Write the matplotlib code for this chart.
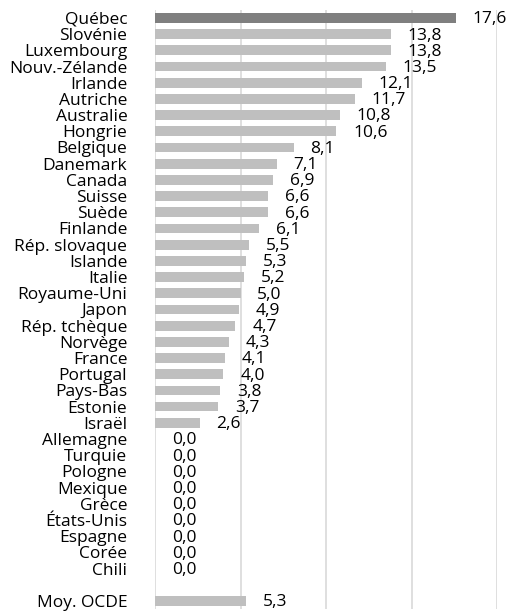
import numpy as np
import matplotlib
matplotlib.use("Agg")
import matplotlib.pyplot as plt

""" DATA """
countries = ["Québec", "Slovénie", "Luxembourg", "Nouv.-Zélande", "Irlande",
             "Autriche", "Australie", "Hongrie", "Belgique", "Danemark",
             "Canada", "Suisse", "Suède", "Finlande", "Rép. slovaque",
             "Islande", "Italie", "Royaume-Uni", "Japon", "Rép. tchèque",
             "Norvège", "France", "Portugal", "Pays-Bas", "Estonie", "Israël",
             "Allemagne", "Turquie", "Pologne", "Mexique", "Grèce",
             "États-Unis", "Espagne", "Corée", "Chili", "", "Moy. OCDE"]
values = [17.6, 13.8, 13.8, 13.5, 12.1, 11.7, 10.8, 10.6, 8.1, 7.1,
          6.9, 6.6, 6.6, 6.1, 5.5, 5.3, 5.2, 5.0, 4.9, 4.7,
          4.3, 4.1, 4.0, 3.8, 3.7, 2.6,
          0.0, 0.0, 0.0, 0.0, 0.0, 0.0, 0.0, 0.0, 0.0, None, 5.3]
x_ticks = [0, 5, 10, 15, 20]

""" PLOT """
plt.rcParams['font.family'] = ['Open Sans', 'DejaVu Sans']
FS = 12.5

fig = plt.figure(figsize=(5.10, 6.14), dpi=100)
ax = fig.add_axes([0.304, 0.008, 0.671, 0.976])

y = np.arange(len(countries))
for i, v in enumerate(values):
    if v is None:
        continue
    color = "#7f7f7f" if i == 0 else "#bfbfbf"
    ax.barh(y[i], v, height=0.6, color=color, zorder=2)
    ax.annotate(f"{v:.1f}".replace(".", ","), xy=(v, y[i]),
                xytext=(12, -1), textcoords="offset points",
                ha="left", va="center", fontsize=FS, zorder=3,
                annotation_clip=False)

for t in x_ticks:
    ax.axvline(t, color="#d9d9d9", lw=1.2, zorder=1)

ax.set_xlim(0, 20)
ax.set_ylim(len(countries) - 0.5, -0.5)
ax.set_yticks(y)
ax.set_yticklabels(countries, fontsize=FS)
ax.tick_params(axis="y", length=0, pad=20)
ax.set_xticks([])
for s in ax.spines.values():
    s.set_visible(False)

fig.savefig("out.png", dpi=100)
